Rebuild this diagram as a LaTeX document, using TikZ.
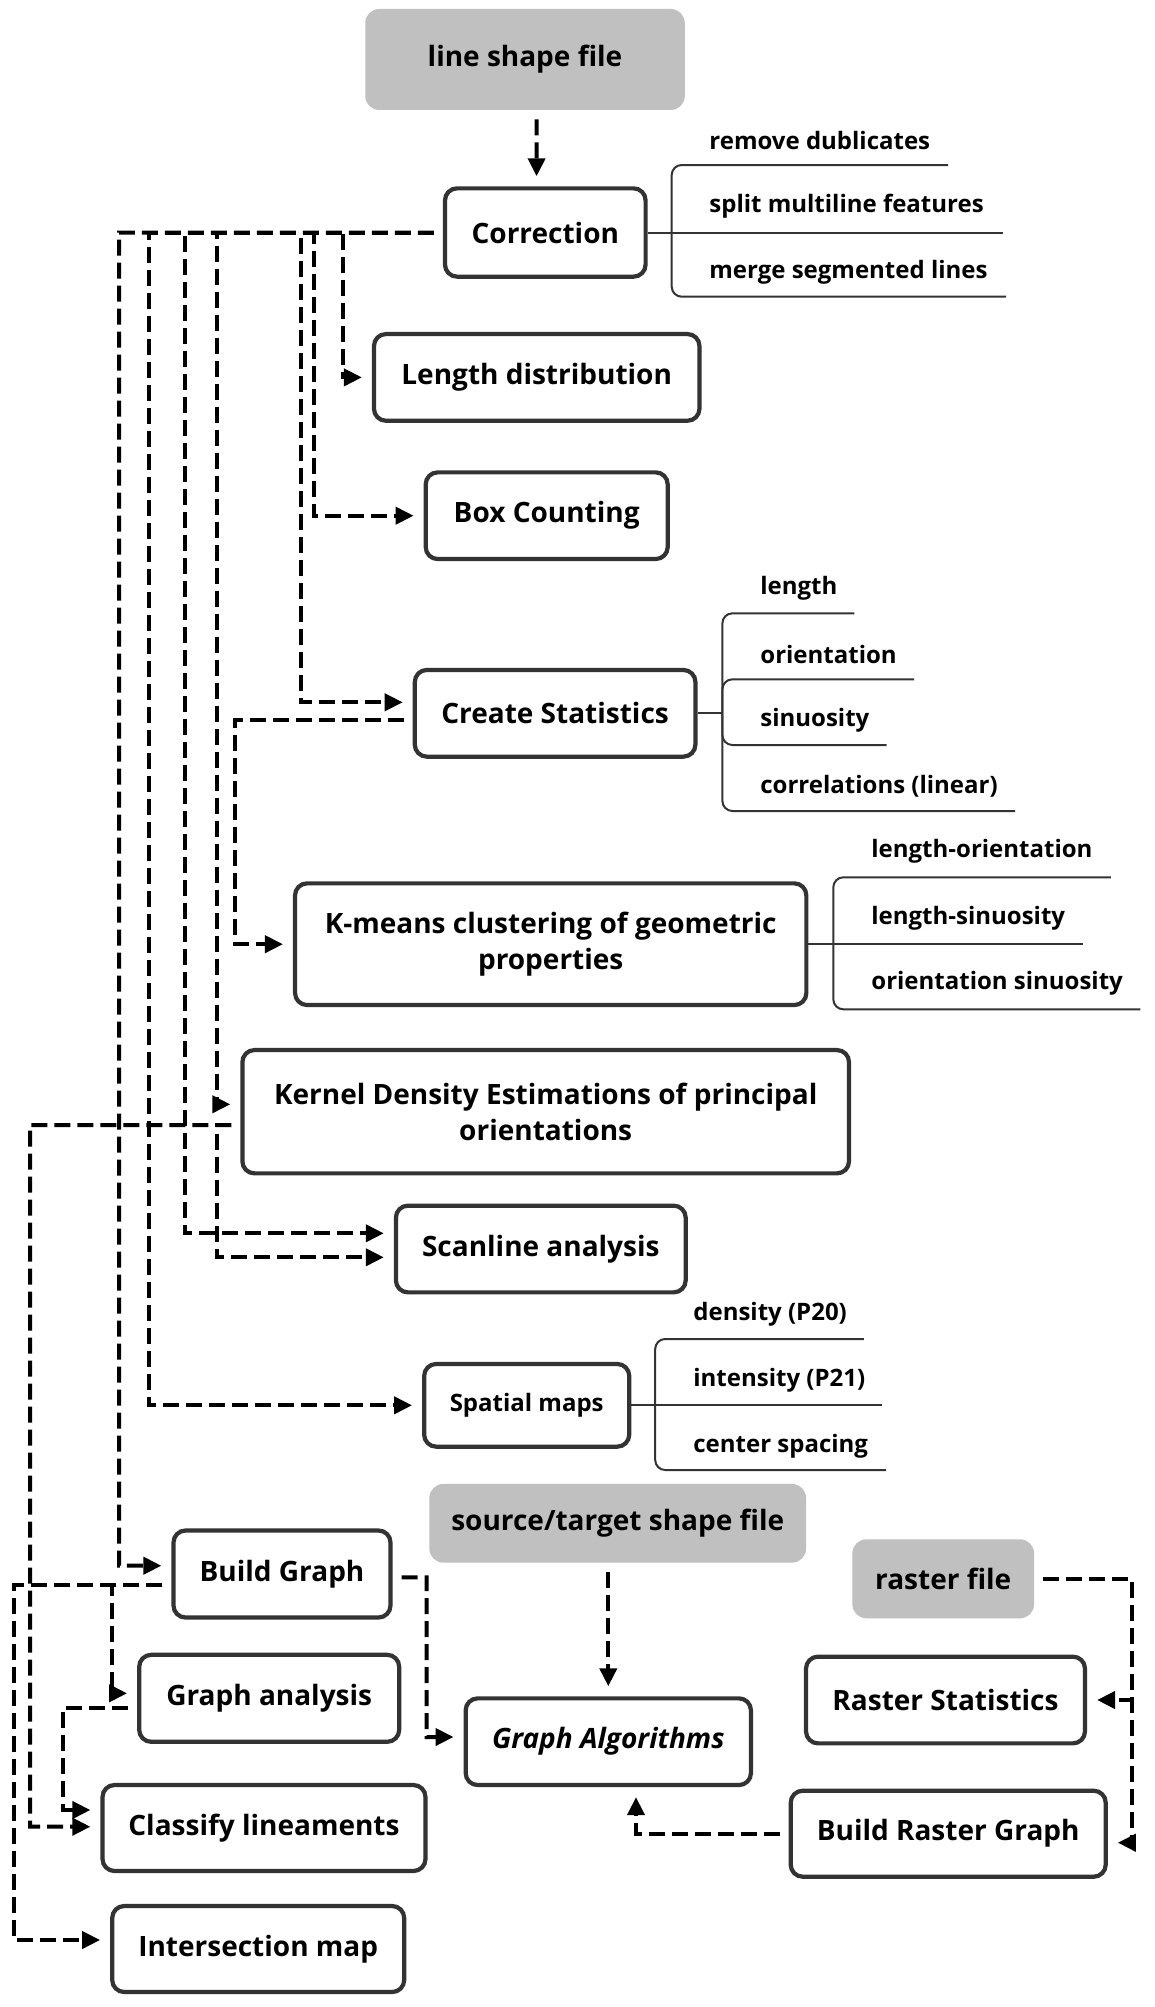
\documentclass[tikz,border=0pt]{standalone}
\usepackage{fontspec}
\setmainfont{Open Sans}
\usetikzlibrary{arrows.meta}
\definecolor{bord}{HTML}{333333}
\definecolor{filegray}{HTML}{C0C0C0}
\begin{document}
\begin{tikzpicture}[x=0.5pt,y=-0.5pt,
  box/.style={draw=bord, line width=2.1pt, rounded corners=6pt, fill=white, align=center, inner sep=0pt, font=\bfseries\fontsize{14pt}{17.75pt}\selectfont},
  file/.style={fill=filegray, rounded corners=7pt, align=center, inner sep=0pt, font=\bfseries\fontsize{14pt}{17.75pt}\selectfont},
  lbl/.style={anchor=west, inner sep=0pt, font=\bfseries\fontsize{12pt}{15pt}\selectfont},
  br/.style={draw=bord, line width=1pt, rounded corners=5pt},
  dl/.style={draw=black, line width=2pt, dash pattern=on 8pt off 3.5pt, shorten <=4.5pt},
  da/.style={dl, -{Triangle[length=9pt,width=8.5pt]}, shorten >=5pt}]
\useasboundingbox (0,0) rectangle (1155,2007);
\fill[white] (0,0) rectangle (1155,2007);

% ---------- nodes ----------
\node[file, minimum width=159.75pt, minimum height=50.5pt] (lsf) at (525,59.5) {line shape file};
\node[box, minimum width=100.3pt, minimum height=44.15pt] (corr) at (545.3,232.5) {Correction};
\node[box, minimum width=162.75pt, minimum height=43.35pt] (lend) at (536.7,377.4) {Length distribution};
\node[box, minimum width=121pt, minimum height=43.35pt] (boxc) at (546.7,515.7) {Box Counting};
\node[box, minimum width=140.3pt, minimum height=43.35pt] (cstat) at (555.1,713.3) {Create Statistics};
\node[box, minimum width=255.65pt, minimum height=60.85pt] (kmeans) at (550.7,944.2) {K-means clustering of geometric\\properties};
\node[box, minimum width=303.3pt, minimum height=61.65pt] (kde) at (545.7,1111.7) {Kernel Density Estimations of principal\\orientations};
\node[box, minimum width=144.9pt, minimum height=43.35pt] (scan) at (540.8,1249) {Scanline analysis};
\node[box, minimum width=102.55pt, minimum height=41.35pt, font=\bfseries\fontsize{12pt}{15pt}\selectfont] (spat) at (526.7,1405.3) {Spatial maps};
\node[file, minimum width=188.35pt, minimum height=39.35pt] (stsf) at (617.7,1523.3) {source/target shape file};
\node[box, minimum width=108.5pt, minimum height=43.5pt] (bgraph) at (282,1574) {Build Graph};
\node[file, minimum width=90.85pt, minimum height=39.5pt] (raster) at (943.2,1578.8) {raster file};
\node[box, minimum width=130pt, minimum height=43.5pt] (ganal) at (269.2,1698.3) {Graph analysis};
\node[box, minimum width=139.5pt, minimum height=43.35pt] (rstat) at (945.5,1700) {Raster Statistics};
\node[box, minimum width=142.65pt, minimum height=43.35pt, font=\bfseries\itshape\fontsize{14pt}{17.75pt}\selectfont] (galg) at (608.3,1741.7) {Graph Algorithms};
\node[box, minimum width=161.5pt, minimum height=43pt] (classify) at (264,1828) {Classify lineaments};
\node[box, minimum width=157.5pt, minimum height=43pt] (brg) at (948.2,1833.7) {Build Raster Graph};
\node[box, minimum width=146pt, minimum height=43pt] (imap) at (258.2,1949) {Intersection map};

% ---------- bracket lists ----------
% Correction
\coordinate (cj) at (671.7,232.5);
\draw[br] (corr.east) -- (1002.6,232.5);
\draw[br] (cj) |- (948,165);
\draw[br] (cj) |- (1006,296.7);
\node[lbl] (c-l1) at (709,140) {remove dublicates};
\node[lbl] (c-l2) at (709,206.7) {split multiline features};
\node[lbl] (c-l3) at (709,272.7) {merge segmented lines};
% Create Statistics
\coordinate (sj) at (722.4,713.3);
\draw[br] (cstat.east) -- (sj);
\draw[br] (sj) |- (854.3,613.3);
\draw[br] (sj) |- (914.2,679.3);
\draw[br] (sj) |- (886.7,745);
\draw[br] (sj) |- (1015,811);
\node[lbl] (s-l1) at (760,588.3) {length};
\node[lbl] (s-l2) at (760,654) {orientation};
\node[lbl] (s-l3) at (760,720) {sinuosity};
\node[lbl] (s-l4) at (760,786) {correlations (linear)};
% K-means
\coordinate (kj) at (833.3,944.2);
\draw[br] (kmeans.east) -- (1083.3,944.2);
\draw[br] (kj) |- (1110.9,877.3);
\draw[br] (kj) |- (1140.3,1009.3);
\node[lbl] (k-l1) at (871,851.7) {length-orientation};
\node[lbl] (k-l2) at (871,918.3) {length-sinuosity};
\node[lbl] (k-l3) at (871,983.3) {orientation sinuosity};
% Spatial maps
\coordinate (pj) at (655.2,1405.3);
\draw[br] (spat.east) -- (881.7,1405.3);
\draw[br] (pj) |- (863.8,1339);
\draw[br] (pj) |- (886.2,1470);
\node[lbl] (p-l1) at (693,1314) {density (P20)};
\node[lbl] (p-l2) at (693,1380) {intensity (P21)};
\node[lbl] (p-l3) at (693,1446) {center spacing};

% ---------- connectors ----------
\draw[da] ([xshift=5.8pt]lsf.south) -- ([xshift=-4.35pt]corr.north);

\coordinate (c1) at (343,377.4);
\coordinate (c2) at (314,515.7);
\coordinate (c3) at (301,702.3);
\coordinate (c4) at (217,1104.3);
\coordinate (c5) at (184.5,1233.3);
\coordinate (c6) at (149,1405.3);
\coordinate (c7) at (119,1565.7);
\draw[da] (corr.west) -| (c1) -- (lend.west);
\draw[da] (corr.west) -| (c2) -- (boxc.west);
\draw[da] (corr.west) -| (c3) -- ([yshift=5.5pt]cstat.west);
\draw[da] (corr.west) -| (c4) -- ([yshift=3.7pt]kde.west);
\draw[da] (corr.west) -| (c5) -- ([yshift=7.85pt]scan.west);
\draw[da] (corr.west) -| (c6) -- (spat.west);
\draw[da] (corr.west) -| (c7) -- ([yshift=4.15pt]bgraph.west);

\coordinate (k1) at (235,944.2);
\draw[da] ([yshift=-3.35pt]cstat.west) -| (k1) -- (kmeans.west);

\coordinate (s1) at (217,1257.3);
\coordinate (s2) at (30,1826.7);
\draw[da] ([yshift=-6.65pt]kde.west) -| (s1) -- ([yshift=-4.15pt]scan.west);
\draw[da] ([yshift=-6.65pt]kde.west) -| (s2) -- ([yshift=0.65pt]classify.west);

\coordinate (g1) at (111.7,1693.3);
\coordinate (g2) at (14,1940);
\coordinate (g3) at (63.3,1810);
\coordinate (g4) at (426.7,1737);
\draw[da] ([yshift=-5.5pt]bgraph.west) -| (g1) -- ([yshift=2.5pt]ganal.west);
\draw[da] ([yshift=-5.5pt]bgraph.west) -| (g2) -- ([yshift=4.5pt]imap.west);
\draw[da] ([yshift=-4.7pt]ganal.west) -| (g3) -- ([yshift=9pt]classify.west);
\draw[da] ([yshift=-1.65pt]bgraph.east) -| (g4) -- ([yshift=2.35pt]galg.west);

\draw[da] (galg.north |- stsf.south) -- (galg.north);
\draw[da] (brg.west) -| ([xshift=13.85pt]galg.south);

\coordinate (r2) at (1132.3,1700);
\coordinate (r3) at (1132.3,1842.7);
\draw[da] (raster.east) -| (r2) -- (rstat.east);
\draw[da] (raster.east) -| (r3) -- ([yshift=-4.5pt]brg.east);
\end{tikzpicture}
\end{document}
